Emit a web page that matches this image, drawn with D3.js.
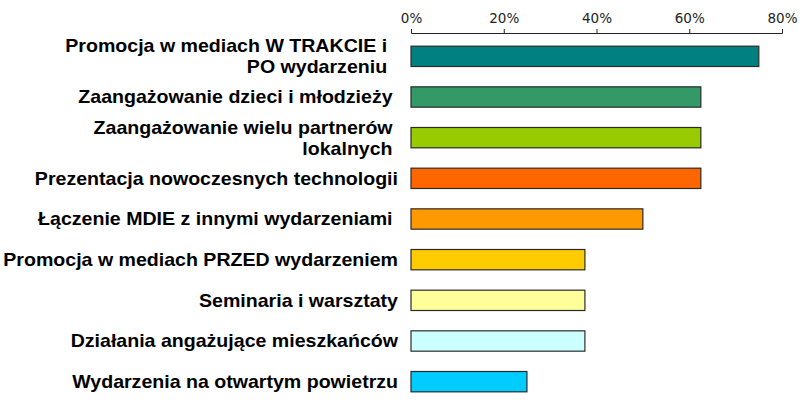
<!DOCTYPE html>
<html>
<head>
<meta charset="utf-8">
<script src="https://cdn.jsdelivr.net/npm/d3@7"></script>
<style>
  body { margin: 0; background: #fff; }
  svg { display: block; }
</style>
</head>
<body>
<div id="chart"></div>
<script>
// categories (each entry = lines of the label, trailing spaces as in the original)
var categories = [
  ["Promocja w mediach W TRAKCIE i  ", "PO wydarzeniu  "],
  ["Zaangażowanie dzieci i młodzieży "],
  ["Zaangażowanie wielu partnerów ", "lokalnych "],
  ["Prezentacja nowoczesnych technologii"],
  ["Łączenie MDIE z innymi wydarzeniami "],
  ["Promocja w mediach PRZED wydarzeniem"],
  ["Seminaria i warsztaty"],
  ["Działania angażujące mieszkańców"],
  ["Wydarzenia na otwartym powietrzu"]
];
var values = [0.75, 0.625, 0.625, 0.625, 0.5, 0.375, 0.375, 0.375, 0.25];
var barColors = ["#008080", "#339966", "#99CC00", "#FF6600", "#FF9900",
                 "#FFCC00", "#FFFF99", "#CCFFFF", "#00CCFF"];
var tickValues = [0, 0.2, 0.4, 0.6, 0.8];

var width = 808, height = 404;
var svg = d3.select("#chart").append("svg")
    .attr("width", width)
    .attr("height", height);

var x = d3.scaleLinear().domain([0, 0.8]).range([411, 782]);
var y = d3.scaleBand()
    .domain(d3.range(categories.length))
    .range([36, 402])
    .paddingInner(0.5)
    .paddingOuter(0.25);

// top axis
var axis = svg.append("g")
    .attr("transform", "translate(0,33)")
    .call(d3.axisTop(x).tickValues(tickValues)
        .tickFormat(d3.format(".0%"))
        .tickSizeInner(4).tickSizeOuter(4).tickPadding(6));
axis.selectAll("path, line").attr("stroke", "#222");
axis.selectAll("text")
    .attr("font-family", "DejaVu Sans, Verdana, sans-serif")
    .attr("font-size", 13.5)
    .attr("fill", "#222");

// bars
svg.append("g").selectAll("rect")
  .data(values)
  .join("rect")
    .attr("x", x(0))
    .attr("y", function(d, i) { return y(i); })
    .attr("width", function(d) { return x(d) - x(0); })
    .attr("height", y.bandwidth())
    .attr("fill", function(d, i) { return barColors[i]; })
    .attr("stroke", "#2a2a2a")
    .attr("stroke-width", 1.2);

// labels, right aligned, slightly wide like the original
var lineH = 21;
var labels = svg.append("g").selectAll("g")
  .data(categories)
  .join("g")
    .attr("transform", function(d, i) {
      var cy = y(i) + y.bandwidth() / 2;
      return "translate(398," + cy + ") scale(1.07,1)";
    });
labels.each(function(lines) {
  var t = d3.select(this).append("text")
      .attr("text-anchor", "end")
      .attr("font-family", "'Liberation Sans', Arial, sans-serif")
      .attr("font-weight", "bold")
      .attr("font-size", 18.3)
      .attr("fill", "#000")
      .style("white-space", "pre");
  var off = -(lines.length - 1) * lineH / 2;
  lines.forEach(function(s, k) {
    t.append("tspan")
      .attr("x", 0)
      .attr("y", off + k * lineH)
      .attr("dy", "0.35em")
      .text(s);
  });
});
</script>
</body>
</html>
